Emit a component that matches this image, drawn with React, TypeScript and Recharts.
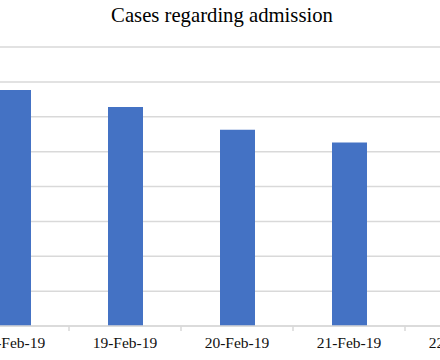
import React from "react";
import { BarChart, Bar, XAxis, YAxis, CartesianGrid } from "recharts";

const categories = ["18-Feb-19", "19-Feb-19", "20-Feb-19", "21-Feb-19", "22-Feb-19"];
const cases = [67.7, 62.8, 56.3, 52.6, 50];
const yTicks = [0, 10, 20, 30, 40, 50, 60, 70, 80];
const title = "Cases regarding admission";

const data = categories.map((c, i) => ({ date: c, cases: cases[i] }));

const TICK_SIZE = 5;
const TICK_MARGIN = 6;
const FONT = "'Liberation Serif', 'Times New Roman', serif";

const CategoryTick = (props: any) => {
  const { x, y, payload } = props;
  const off = payload && payload.offset ? payload.offset : 0;
  const axisY = y - TICK_MARGIN - TICK_SIZE;
  return (
    <g>
      <line x1={x + off} x2={x + off} y1={axisY} y2={axisY + TICK_SIZE} stroke="#d9d9d9" strokeWidth={1.5} />
      <text x={x} y={y} dy="0.71em" textAnchor="middle" fill="#111" fontSize={15.5} fontFamily={FONT}>
        {payload.value}
      </text>
    </g>
  );
};

export default function App() {
  return (
    <div style={{ position: "fixed", left: 0, top: 0, width: 440, height: 360, overflow: "hidden", background: "#fff" }}>
      <svg width={440} height={40} style={{ position: "absolute", left: 0, top: 0 }}>
        <text x={222} y={22} textAnchor="middle" fontSize={20.7} fontFamily={FONT} fill="#000">
          {title}
        </text>
      </svg>
      <div style={{ position: "absolute", left: -43, top: 0 }}>
        <BarChart width={560} height={360} data={data} margin={{ top: 47, right: 0, bottom: 0, left: 0 }} barCategoryGap={0}>
          <CartesianGrid horizontal={true} vertical={false} stroke="#d9d9d9" strokeWidth={1.5} />
          <YAxis hide domain={[0, 80]} ticks={yTicks} />
          <XAxis
            dataKey="date"
            height={34}
            axisLine={{ stroke: "#d9d9d9", strokeWidth: 1.5 }}
            tickLine={false}
            tickSize={TICK_SIZE}
            tickMargin={TICK_MARGIN}
            interval={0}
            tick={<CategoryTick />}
          />
          <Bar dataKey="cases" fill="#4472C4" barSize={35} isAnimationActive={false} />
        </BarChart>
      </div>
    </div>
  );
}
